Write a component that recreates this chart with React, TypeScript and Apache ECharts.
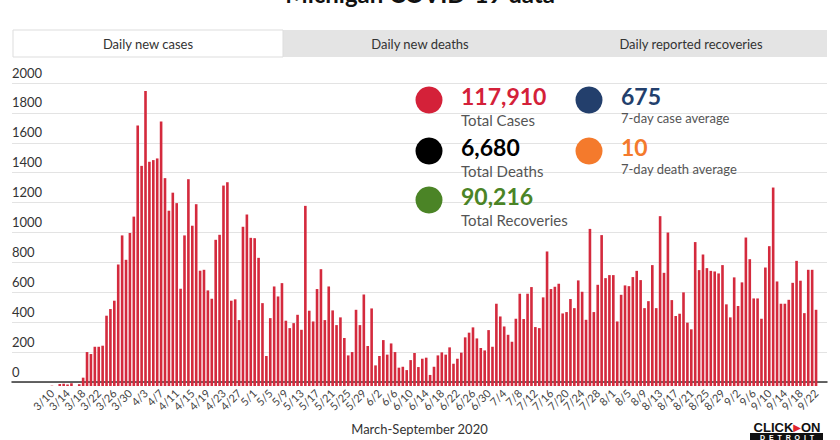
import React, { useEffect, useRef } from "react";
import * as echarts from "echarts";

// Daily new cases, 3/10 – 9/22 (2020)
const marchCases = [2, 0, 13, 15, 10, 18, 0, 12, 55, 224, 211, 259, 259, 266, 464, 508, 563, 802, 994, 833, 1010, 1118];
const aprilCases = [1719, 1453, 1948, 1480, 1491, 1502, 1746, 1372, 1157, 1276, 1207, 642, 994, 1365, 1058, 1200, 761, 767, 631, 576, 965, 998, 1323, 1345, 563, 572, 435, 1051, 1132, 978];
const mayCases = [976, 846, 547, 198, 448, 657, 591, 679, 431, 382, 415, 470, 371, 1189, 497, 426, 640, 771, 435, 657, 499, 402, 453, 317, 202, 224, 503, 402, 604, 264, 512];
const juneCases = [136, 198, 303, 207, 281, 224, 121, 127, 105, 171, 218, 125, 180, 187, 73, 127, 202, 222, 207, 255, 147, 180, 220, 321, 352, 387, 314, 251, 235, 369];
const julyCases = [259, 543, 459, 393, 338, 292, 444, 609, 442, 609, 653, 389, 382, 585, 888, 640, 655, 675, 479, 488, 574, 514, 697, 622, 437, 1037, 488, 668, 996, 712, 732];
const augustCases = [732, 426, 602, 664, 659, 719, 760, 699, 514, 560, 798, 514, 1121, 747, 1013, 567, 462, 477, 618, 418, 374, 950, 765, 868, 778, 760, 756, 743, 798, 539, 453];
const septemberCases = [717, 528, 684, 980, 837, 578, 578, 444, 782, 923, 1310, 690, 543, 543, 569, 681, 826, 695, 481, 767, 767, 503];

const dailyCases = [
  ...marchCases, ...aprilCases, ...mayCases, ...juneCases,
  ...julyCases, ...augustCases, ...septemberCases,
];

// Month / first day / number of days shown
const monthSpans: [number, number, number][] = [
  [3, 10, 22], [4, 1, 30], [5, 1, 31], [6, 1, 30], [7, 1, 31], [8, 1, 31], [9, 1, 22],
];
const dateLabels: string[] = [];
monthSpans.forEach(([m, d0, n]) => {
  for (let i = 0; i < n; i++) dateLabels.push(`${m}/${d0 + i}`);
});

const tabLabels = ["Daily new cases", "Daily new deaths", "Daily reported recoveries"];
const statValues = ["117,910", "6,680", "90,216", "675", "10"];
const statNames = ["Total Cases", "Total Deaths", "Total Recoveries", "7-day case average", "7-day death average"];
const statColors = ["#d42139", "#000000", "#4b8426", "#233f6c", "#f47a2c"];
const yTicks = [0, 200, 400, 600, 800, 1000, 1200, 1400, 1600, 1800, 2000];

const FONT = "Lato, 'Open Sans', sans-serif";

export default function App() {
  const ref = useRef<HTMLDivElement>(null);
  useEffect(() => {
    if (!ref.current) return;
    const chart = echarts.init(ref.current, undefined, { renderer: "svg" });

    const statGraphics: any[] = [];
    const positions = [
      [429, 100, 461], [429, 151, 461], [429, 200, 461], [589, 100, 621], [589, 151, 621],
    ];
    statValues.forEach((v, i) => {
      const [cx, cy, tx] = positions[i];
      const small = i >= 3;
      statGraphics.push({
        type: "circle", shape: { cx, cy, r: 13.5 }, style: { fill: statColors[i] }, z: 10,
      });
      statGraphics.push({
        type: "text", x: tx, y: cy - 4, z: 10,
        style: {
          text: v, fill: statColors[i], font: `bold 23px ${FONT}`,
          textAlign: "left", textVerticalAlign: "middle",
        },
      });
      statGraphics.push({
        type: "text", x: tx, y: cy + (small ? 18 : 20), z: 10,
        style: {
          text: statNames[i], fill: "#555555", font: `${small ? 13 : 15}px ${FONT}`,
          textAlign: "left", textVerticalAlign: "middle",
        },
      });
    });

    const option: any = {
      animation: false,
      backgroundColor: "#ffffff",
      grid: [
        { left: 12, right: 13, top: 83, bottom: 54 },
        { left: 50, right: 22, top: 83, bottom: 54 },
      ],
      xAxis: [
        {
          gridIndex: 0, type: "value", min: 0, max: 1,
          axisLine: { show: true, lineStyle: { color: "#333333", width: 1.5 } },
          axisTick: { show: false }, axisLabel: { show: false }, splitLine: { show: false },
          name: "March-September 2020", nameLocation: "middle", nameGap: 40,
          nameTextStyle: { color: "#333333", fontSize: 13, fontFamily: FONT },
        },
        {
          gridIndex: 1, type: "category", data: dateLabels, boundaryGap: true,
          axisLine: { show: false }, axisTick: { show: false },
          axisLabel: {
            interval: 3, rotate: 45, fontSize: 11, color: "#444444", fontFamily: FONT, margin: 5,
          },
        },
      ],
      yAxis: [
        {
          gridIndex: 0, type: "value", min: yTicks[0], max: yTicks[yTicks.length - 1], interval: 200,
          axisLine: { show: false }, axisTick: { show: false },
          splitLine: { lineStyle: { color: "#e3e3e3", width: 1 } },
          axisLabel: {
            inside: true, verticalAlign: "bottom", margin: 0, padding: [0, 0, 4, 0],
            color: "#333333", fontSize: 13, fontFamily: FONT,
            formatter: (v: number) => String(v),
          },
        },
        {
          gridIndex: 1, type: "value", min: 0, max: 2000, show: false,
        },
      ],
      series: [
        {
          type: "bar", xAxisIndex: 1, yAxisIndex: 1, data: dailyCases,
          barCategoryGap: "33%", itemStyle: { color: "#d42a3d" },
        },
      ],
      graphic: [
        {
          type: "text", x: 420, y: 5,
          style: {
            text: "Michigan COVID-19 data", font: `bold 24px ${FONT}`, fill: "#111111",
            textAlign: "center", textVerticalAlign: "bottom",
          },
        },
        { type: "rect", shape: { x: 283, y: 30, width: 544, height: 27 }, style: { fill: "#e4e4e4" } },
        {
          type: "rect", shape: { x: 13, y: 30, width: 270, height: 27 },
          style: { fill: "#ffffff", stroke: "#dddddd", lineWidth: 1 },
        },
        ...tabLabels.map((t, i) => ({
          type: "text", x: [148, 420, 691][i], y: 44,
          style: {
            text: t, font: `13px ${FONT}`, fill: "#333333",
            textAlign: "center", textVerticalAlign: "middle",
          },
        })),
        ...statGraphics,
        {
          type: "text", x: 787, y: 427,
          style: {
            text: "{a|CLICK}{b|▶}{a|ON}",
            rich: {
              a: { font: `900 13px 'Liberation Sans', sans-serif`, fill: "#111111" },
              b: { font: `10px 'DejaVu Sans', sans-serif`, fill: "#e0242f" },
            },
            textAlign: "center", textVerticalAlign: "middle",
          },
        },
        { type: "rect", shape: { x: 750, y: 433, width: 73, height: 8 }, style: { fill: "#111111" } },
        {
          type: "text", x: 787, y: 437,
          style: {
            text: "D  E  T  R  O  I  T", font: `bold 7px 'Liberation Sans', sans-serif`, fill: "#ffffff",
            textAlign: "center", textVerticalAlign: "middle",
          },
        },
      ],
    };
    chart.setOption(option);
    return () => chart.dispose();
  }, []);
  return (
    <div
      ref={ref}
      style={{ position: "absolute", left: 0, top: 0, width: 840, height: 440 }}
    />
  );
}
